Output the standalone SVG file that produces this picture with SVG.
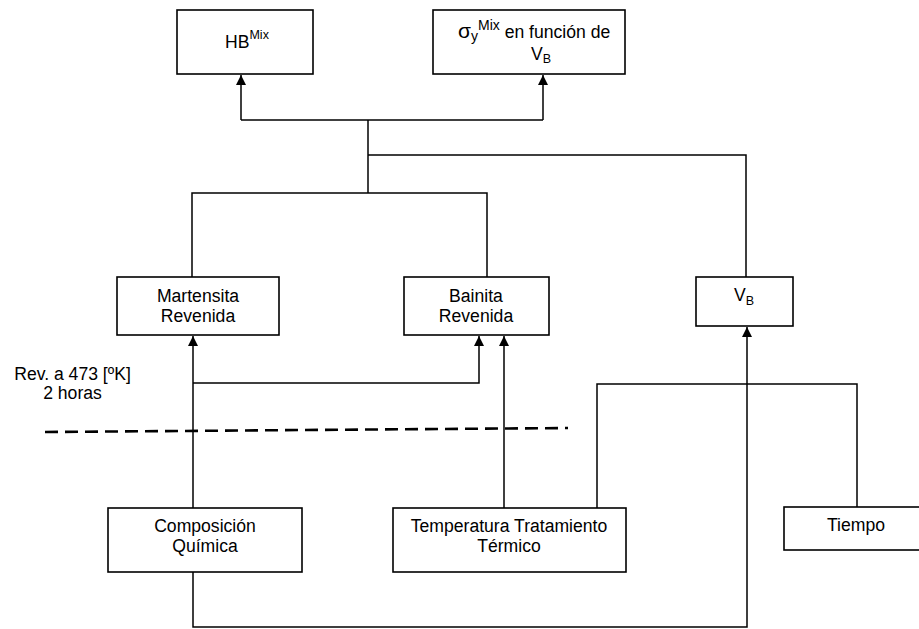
<svg xmlns="http://www.w3.org/2000/svg" width="919" height="629" viewBox="0 0 919 629">
  <style>
    .box { fill: #ffffff; stroke: #000000; stroke-width: 1.6; }
    .lbl { font-family: "Liberation Sans", Arial, sans-serif; font-size: 17.6px; fill: #000000; text-anchor: middle; }
    .st { text-anchor: start; }
    .sm { font-size: 12.5px; }
    .sup { font-size: 14px; }
    .big { font-size: 21px; }
    .wire { fill: none; stroke: #000000; stroke-width: 1.5; }
    .arr { fill: none; stroke: #000000; stroke-width: 1.5; marker-end: url(#tip); }
    .dash { fill: none; stroke: #000000; stroke-width: 2.6; stroke-dasharray: 13 7; }
  </style>
  <defs>
    <marker id="tip" viewBox="0 0 10 12" refX="10" refY="6" markerWidth="10" markerHeight="12" markerUnits="userSpaceOnUse" orient="auto">
      <path d="M0,1 L10,6 L0,11 Z" fill="#000000"/>
    </marker>
  </defs>
  <rect width="919" height="629" fill="#ffffff"/>

  <g id="connectors">
    <!-- top tree -->
    <path class="wire" d="M241,120 H543"/>
    <path class="arr" d="M241,120 V75"/>
    <path class="arr" d="M543,120 V75"/>
    <path class="wire" d="M368,120 V193"/>
    <path class="wire" d="M368,155 H746 V278"/>
    <path class="wire" d="M192,277 V193 H487 V277"/>
    <!-- lower tree -->
    <path class="arr" d="M193,508 V336"/>
    <path class="arr" d="M193,383 H479 V336"/>
    <path class="arr" d="M504,508 V336"/>
    <path class="wire" d="M597,508 V384 H857 V507"/>
    <path class="arr" d="M193,572 V627 H747 V327"/>
    <!-- treatment divider -->
    <path class="dash" d="M45,432 L568,428"/>
  </g>

  <g id="hb">
    <rect class="box" x="177" y="10" width="136" height="64"/>
    <text class="lbl st" x="225" y="48">HB<tspan class="sm" dy="-9">Mix</tspan></text>
  </g>

  <g id="sigma">
    <rect class="box" x="433" y="10" width="192" height="64"/>
    <text class="lbl st" x="458" y="38"><tspan class="big">σ</tspan><tspan class="sup" dy="3">y</tspan><tspan class="sup" dy="-11">Mix</tspan><tspan dy="8"> en función de</tspan></text>
    <text class="lbl st" x="531" y="60">V<tspan class="sm" dy="3">B</tspan></text>
  </g>

  <g id="martensita">
    <rect class="box" x="117" y="277" width="162" height="58"/>
    <text class="lbl" x="198" y="302">Martensita</text>
    <text class="lbl" x="198" y="322">Revenida</text>
  </g>

  <g id="bainita">
    <rect class="box" x="404" y="277" width="145" height="58"/>
    <text class="lbl" x="476" y="302">Bainita</text>
    <text class="lbl" x="476" y="322">Revenida</text>
  </g>

  <g id="vb">
    <rect class="box" x="696" y="277" width="97" height="49"/>
    <text class="lbl st" x="734" y="301">V<tspan class="sm" dy="4">B</tspan></text>
  </g>

  <g id="revenido">
    <text class="lbl" x="72.5" y="380">Rev. a 473 [ºK]</text>
    <text class="lbl" x="72.5" y="399">2 horas</text>
  </g>

  <g id="composicion">
    <rect class="box" x="108" y="508" width="194" height="64"/>
    <text class="lbl" x="205" y="532">Composición</text>
    <text class="lbl" x="205" y="552">Química</text>
  </g>

  <g id="temperatura">
    <rect class="box" x="393" y="508" width="233" height="64"/>
    <text class="lbl" x="509" y="532">Temperatura Tratamiento</text>
    <text class="lbl" x="509" y="552">Térmico</text>
  </g>

  <g id="tiempo">
    <rect class="box" x="784" y="507" width="140" height="43"/>
    <text class="lbl" x="856" y="531">Tiempo</text>
  </g>
</svg>
